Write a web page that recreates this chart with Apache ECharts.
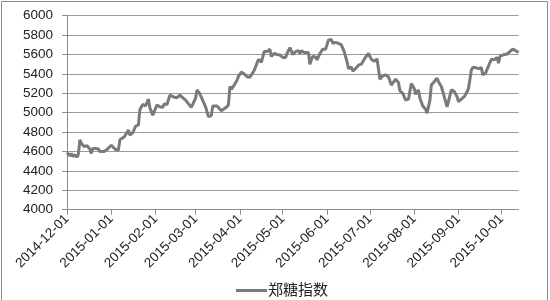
<!DOCTYPE html>
<html>
<head>
<meta charset="utf-8">
<script src="https://cdn.jsdelivr.net/npm/echarts@6/dist/echarts.min.js"></script>
<style>html,body{margin:0;padding:0;background:#fff;}#c{width:550px;height:300px;}</style>
</head>
<body>
<div id="c"></div>
<script>
var seriesName = '郑糖指数';
var tickLabels = ['2014-12-01','2015-01-01','2015-02-01','2015-03-01','2015-04-01','2015-05-01','2015-06-01','2015-07-01','2015-08-01','2015-09-01','2015-10-01'];
var yTicks = [4000, 4200, 4400, 4600, 4800, 5000, 5200, 5400, 5600, 5800, 6000];
var axisStart = '2014-12-01';
var axisEnd = '2015-10-13';
var dates = [
'2014-12-01','2014-12-03','2014-12-04','2014-12-05','2014-12-07','2014-12-08','2014-12-09','2014-12-10','2014-12-11','2014-12-13',
'2014-12-14','2014-12-15','2014-12-17','2014-12-18','2014-12-19','2014-12-21','2014-12-23','2014-12-24','2014-12-27','2014-12-29',
'2015-01-01','2015-01-04','2015-01-06','2015-01-07','2015-01-10','2015-01-13','2015-01-14','2015-01-16','2015-01-18','2015-01-20',
'2015-01-21','2015-01-23','2015-01-25','2015-01-27','2015-01-28','2015-01-30','2015-02-02','2015-02-04','2015-02-06','2015-02-07',
'2015-02-09','2015-02-11','2015-02-12','2015-02-14','2015-02-16','2015-02-18','2015-02-22','2015-02-26','2015-03-01','2015-03-02',
'2015-03-04','2015-03-08','2015-03-10','2015-03-12','2015-03-13','2015-03-16','2015-03-17','2015-03-19','2015-03-22','2015-03-24',
'2015-03-25','2015-03-26','2015-03-28','2015-03-30','2015-03-31','2015-04-02','2015-04-04','2015-04-06','2015-04-08','2015-04-11',
'2015-04-14','2015-04-16','2015-04-18','2015-04-20','2015-04-21','2015-04-22','2015-04-23','2015-04-25','2015-04-27','2015-04-29',
'2015-05-01','2015-05-03','2015-05-04','2015-05-06','2015-05-07','2015-05-08','2015-05-10','2015-05-12','2015-05-13','2015-05-14',
'2015-05-16','2015-05-17','2015-05-19','2015-05-20','2015-05-21','2015-05-22','2015-05-24','2015-05-25','2015-05-27','2015-05-29',
'2015-05-31','2015-06-02','2015-06-04','2015-06-05','2015-06-07','2015-06-09','2015-06-11','2015-06-13','2015-06-15','2015-06-16',
'2015-06-18','2015-06-19','2015-06-21','2015-06-23','2015-06-25','2015-06-28','2015-06-30','2015-07-02','2015-07-04','2015-07-06',
'2015-07-07','2015-07-08','2015-07-10','2015-07-12','2015-07-14','2015-07-16','2015-07-19','2015-07-21','2015-07-22','2015-07-24',
'2015-07-26','2015-07-28','2015-07-30','2015-08-01','2015-08-02','2015-08-04','2015-08-05','2015-08-07','2015-08-09','2015-08-10',
'2015-08-12','2015-08-13','2015-08-15','2015-08-17','2015-08-18','2015-08-20','2015-08-21','2015-08-22','2015-08-24','2015-08-25',
'2015-08-27','2015-08-29','2015-08-31','2015-09-01','2015-09-02','2015-09-05','2015-09-07','2015-09-08','2015-09-10','2015-09-11',
'2015-09-13','2015-09-15','2015-09-17','2015-09-18','2015-09-20','2015-09-21','2015-09-22','2015-09-24','2015-09-25','2015-09-26',
'2015-09-28','2015-09-29','2015-09-30','2015-10-02','2015-10-05','2015-10-07','2015-10-09','2015-10-11','2015-10-13'
];
var values = [
4590,4555,4580,4550,4565,4540,4575,4720,4685,4650,
4650,4660,4625,4580,4630,4630,4625,4600,4600,4620,
4665,4620,4615,4720,4750,4820,4770,4795,4860,4875,
5030,5085,5070,5140,5050,4975,5080,5062,5055,5090,
5085,5180,5170,5160,5155,5180,5130,5055,5150,5235,
5195,5060,4960,4970,5070,5070,5062,5020,5050,5080,
5270,5240,5285,5335,5375,5420,5400,5370,5365,5435,
5550,5520,5630,5630,5645,5655,5580,5610,5600,5595,
5570,5570,5610,5670,5640,5600,5630,5640,5610,5640,
5620,5630,5620,5500,5545,5580,5575,5545,5610,5655,
5655,5750,5755,5715,5725,5715,5700,5630,5525,5455,
5470,5430,5455,5490,5500,5575,5610,5550,5530,5555,
5545,5345,5380,5390,5370,5285,5345,5310,5225,5200,
5130,5140,5300,5250,5190,5235,5150,5070,5035,4995,
5130,5285,5320,5355,5320,5270,5285,5165,5060,5080,
5235,5220,5165,5115,5130,5165,5215,5250,5440,5465,
5465,5455,5465,5390,5410,5445,5455,5550,5530,5545,
5570,5510,5580,5595,5605,5630,5655,5640,5620
];

function dayOffset(s) {
  var p = s.split('-').map(Number);
  var b = axisStart.split('-').map(Number);
  return Math.round((Date.UTC(p[0], p[1] - 1, p[2]) - Date.UTC(b[0], b[1] - 1, b[2])) / 86400000);
}
var tickOffsets = tickLabels.map(dayOffset);
var labelByOffset = {};
tickLabels.forEach(function (t, i) { labelByOffset[tickOffsets[i]] = t; });
var lineData = dates.map(function (d, i) { return [dayOffset(d), values[i]]; });

var FONT = "'Liberation Sans', 'Noto Sans CJK SC', sans-serif";
var chart = echarts.init(document.getElementById('c'), null, { renderer: 'canvas' });
chart.setOption({
  backgroundColor: '#ffffff',
  animation: false,
  textStyle: { fontFamily: FONT },
  graphic: [{
    type: 'rect', silent: true,
    shape: { x: 1.5, y: 1.5, width: 546, height: 305 },
    style: { fill: 'none', stroke: '#8c8c8c', lineWidth: 1 }
  }],
  grid: { left: 67, right: 31.5, top: 15.7, bottom: 90.3, containLabel: false },
  legend: {
    data: [seriesName],
    left: 231, top: 278,
    icon: 'rect', itemWidth: 31, itemHeight: 3,
    itemGap: 10,
    textStyle: { fontSize: 15, color: '#222', fontFamily: FONT, padding: [0, 0, 0, -4] }
  },
  xAxis: {
    type: 'value',
    min: 0, max: dayOffset(axisEnd),
    splitLine: { show: false },
    axisLine: { show: true, lineStyle: { color: '#8c8c8c', width: 1 } },
    axisTick: { show: true, customValues: tickOffsets, length: 5, lineStyle: { color: '#8c8c8c' } },
    axisLabel: {
      customValues: tickOffsets,
      rotate: 45, margin: 7,
      fontSize: 13.5, color: '#222', fontFamily: FONT,
      formatter: function (v) { return labelByOffset[v] || ''; }
    }
  },
  yAxis: {
    type: 'value',
    min: yTicks[0], max: yTicks[yTicks.length - 1], interval: yTicks[1] - yTicks[0],
    axisLine: { show: true, lineStyle: { color: '#8c8c8c', width: 1 } },
    axisTick: { show: true, length: 5, lineStyle: { color: '#8c8c8c' } },
    splitLine: { show: true, lineStyle: { color: '#9a9a9a', width: 1 } },
    axisLabel: { fontSize: 13.5, color: '#222', margin: 14, fontFamily: FONT,
      formatter: function (v) { return String(v); } }
  },
  series: [{
    name: seriesName,
    type: 'line',
    data: lineData,
    showSymbol: false,
    symbol: 'none',
    lineStyle: { color: '#7a7a7a', width: 3 },
    itemStyle: { color: '#7a7a7a' }
  }]
});
</script>
</body>
</html>
